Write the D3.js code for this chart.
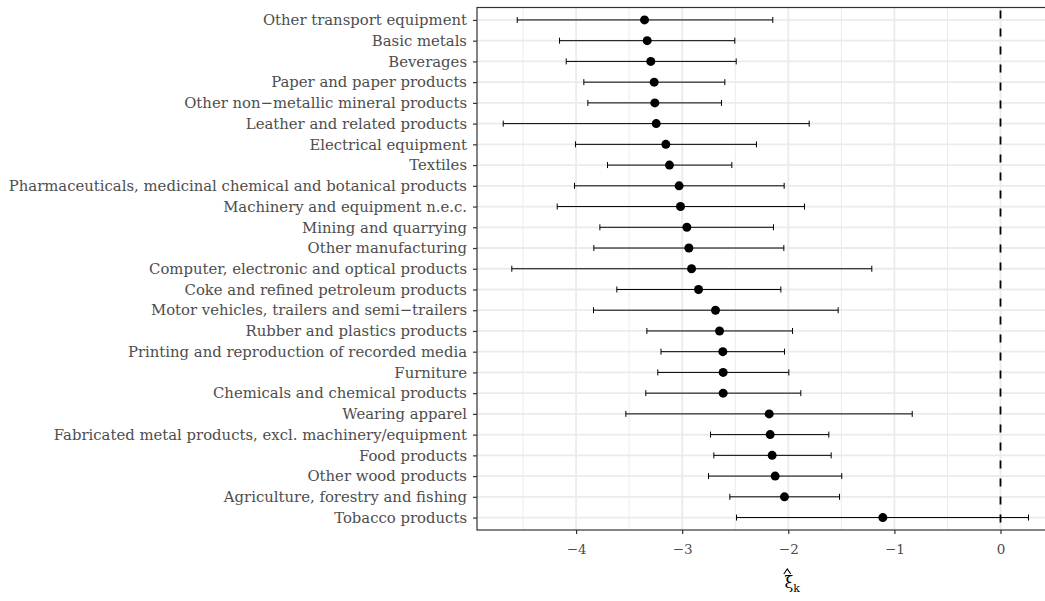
<!DOCTYPE html>
<html>
<head>
<meta charset="utf-8">
<script src="https://cdn.jsdelivr.net/npm/d3@7"></script>
<style>
  body { margin: 0; background: #fff; }
  svg text { font-family: "DejaVu Serif", serif; }
</style>
</head>
<body>
<div id="chart"></div>
<script>
// Industries, top to bottom
const industries = [
    "Other transport equipment",
    "Basic metals",
    "Beverages",
    "Paper and paper products",
    "Other non\u2212metallic mineral products",
    "Leather and related products",
    "Electrical equipment",
    "Textiles",
    "Pharmaceuticals, medicinal chemical and botanical products",
    "Machinery and equipment n.e.c.",
    "Mining and quarrying",
    "Other manufacturing",
    "Computer, electronic and optical products",
    "Coke and refined petroleum products",
    "Motor vehicles, trailers and semi\u2212trailers",
    "Rubber and plastics products",
    "Printing and reproduction of recorded media",
    "Furniture",
    "Chemicals and chemical products",
    "Wearing apparel",
    "Fabricated metal products, excl. machinery/equipment",
    "Food products",
    "Other wood products",
    "Agriculture, forestry and fishing",
    "Tobacco products"
];

const estimates = [-3.355, -3.33, -3.296, -3.264, -3.258, -3.245, -3.154, -3.12, -3.029, -3.016,
    -2.956, -2.937, -2.912, -2.846, -2.686, -2.648, -2.617, -2.614, -2.614, -2.18,
    -2.171, -2.152, -2.124, -2.036, -1.109];

const lower = [-4.555, -4.156, -4.093, -3.927, -3.889, -4.687, -4.006, -3.704, -4.015, -4.178,
    -3.776, -3.833, -4.606, -3.616, -3.836, -3.333, -3.2, -3.23, -3.343, -3.531,
    -2.733, -2.702, -2.752, -2.551, -2.488];

const upper = [-2.146, -2.504, -2.491, -2.598, -2.63, -1.803, -2.30, -2.532, -2.039, -1.847,
    -2.14, -2.042, -1.213, -2.07, -1.53, -1.96, -2.036, -1.995, -1.882, -0.832,
    -1.618, -1.596, -1.496, -1.517, 0.264];

const xTicks = [-4, -3, -2, -1, 0];
const xMinor = [-4.5, -3.5, -2.5, -1.5, -0.5];

const rows = industries.map((name, i) => ({ name, est: estimates[i], lo: lower[i], hi: upper[i] }));

const W = 1045, H = 601;
const panel = { left: 477, top: 7.5, bottom: 530 };

const svg = d3.select("#chart").append("svg")
    .attr("width", W)
    .attr("height", H);

const x = d3.scaleLinear()
    .domain([-4.934, 0.512])
    .range([panel.left, panel.left + 5.446 * 106.1]);

const y = d3.scalePoint()
    .domain(industries)
    .range([panel.top, panel.bottom])
    .padding(0.6);

const right = x.range()[1];

// grid
const grid = svg.append("g");
grid.selectAll(".minor").data(xMinor).enter().append("line")
    .attr("x1", d => x(d)).attr("x2", d => x(d))
    .attr("y1", panel.top).attr("y2", panel.bottom)
    .attr("stroke", "#ebebeb").attr("stroke-width", 1);
grid.selectAll(".major").data(xTicks).enter().append("line")
    .attr("x1", d => x(d)).attr("x2", d => x(d))
    .attr("y1", panel.top).attr("y2", panel.bottom)
    .attr("stroke", "#ebebeb").attr("stroke-width", 1.8);
grid.selectAll(".hmaj").data(industries).enter().append("line")
    .attr("x1", panel.left).attr("x2", right)
    .attr("y1", d => y(d)).attr("y2", d => y(d))
    .attr("stroke", "#ebebeb").attr("stroke-width", 1.8);

// reference line at zero
svg.append("line")
    .attr("x1", x(0)).attr("x2", x(0))
    .attr("y1", panel.top).attr("y2", panel.bottom)
    .attr("stroke", "#000").attr("stroke-width", 1.8)
    .attr("stroke-dasharray", "8,10")
    .attr("stroke-dashoffset", -3);

// error bars
const bars = svg.append("g").selectAll("g").data(rows).enter().append("g");
bars.append("line")
    .attr("x1", d => x(d.lo)).attr("x2", d => x(d.hi))
    .attr("y1", d => y(d.name)).attr("y2", d => y(d.name))
    .attr("stroke", "#000").attr("stroke-width", 1);
bars.append("line")
    .attr("x1", d => x(d.lo)).attr("x2", d => x(d.lo))
    .attr("y1", d => y(d.name) - 3).attr("y2", d => y(d.name) + 3)
    .attr("stroke", "#000").attr("stroke-width", 1);
bars.append("line")
    .attr("x1", d => x(d.hi)).attr("x2", d => x(d.hi))
    .attr("y1", d => y(d.name) - 3).attr("y2", d => y(d.name) + 3)
    .attr("stroke", "#000").attr("stroke-width", 1);
bars.append("circle")
    .attr("cx", d => x(d.est)).attr("cy", d => y(d.name))
    .attr("r", 4.5).attr("fill", "#000");

// panel border
svg.append("rect")
    .attr("x", panel.left).attr("y", panel.top)
    .attr("width", right - panel.left).attr("height", panel.bottom - panel.top)
    .attr("fill", "none").attr("stroke", "#333").attr("stroke-width", 1.2);

// axes
const xAxis = svg.append("g")
    .attr("transform", `translate(0,${panel.bottom})`)
    .call(d3.axisBottom(x).tickValues(xTicks).tickSize(4).tickPadding(10)
        .tickFormat(d => d < 0 ? "\u2212" + Math.abs(d) : d));
const yAxis = svg.append("g")
    .attr("transform", `translate(${panel.left},0)`)
    .call(d3.axisLeft(y).tickSize(4).tickPadding(6));

[xAxis, yAxis].forEach(a => {
    a.select(".domain").remove();
    a.selectAll(".tick line").attr("stroke", "#333").attr("stroke-width", 1.2);
    a.selectAll(".tick text").attr("fill", "#4d4d4d");
});
yAxis.selectAll(".tick text").style("font-size", "14.85px");
xAxis.selectAll(".tick text").style("font-size", "13.5px");

// axis title: xi hat sub k
const tx = x(-2) + 4;
svg.append("text")
    .attr("x", tx).attr("y", 588)
    .attr("text-anchor", "middle")
    .style("font-size", "16px")
    .attr("fill", "#000")
    .text("\u03be")
    .append("tspan")
    .attr("dy", 4).style("font-size", "11px").text("k");
// hat accent over the xi
svg.append("path")
    .attr("d", d3.line()([[tx - 8.5, 574], [tx - 5, 569], [tx - 1.5, 574]]))
    .attr("fill", "none").attr("stroke", "#000").attr("stroke-width", 1.1);
</script>
</body>
</html>
